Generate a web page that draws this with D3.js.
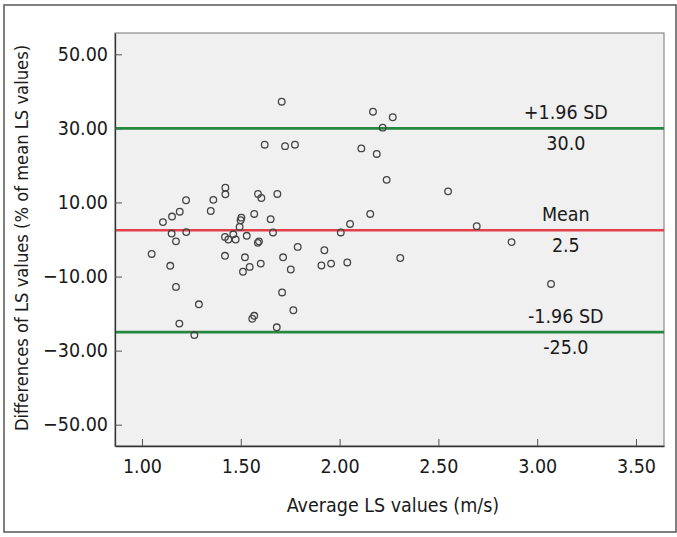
<!DOCTYPE html>
<html><head><meta charset="utf-8">
<script src="https://cdn.jsdelivr.net/npm/d3@7"></script>
<style>body{margin:0;background:#fff}svg{display:block}</style>
</head><body>
<svg id="c" width="677" height="537"></svg>
<script>
const avgLS = [1.049,1.106,1.143,1.150,1.152,1.172,1.172,1.189,1.191,1.223,1.224,1.265,1.288,1.348,1.361,1.420,1.420,1.422,1.422,1.437,1.462,1.474,1.494,1.499,1.503,1.511,1.521,1.530,1.545,1.558,1.568,1.568,1.586,1.592,1.587,1.601,1.604,1.621,1.651,1.663,1.682,1.685,1.707,1.709,1.714,1.724,1.753,1.766,1.774,1.788,1.908,1.923,1.957,2.006,2.039,2.053,2.110,2.155,2.169,2.188,2.218,2.238,2.269,2.307,2.549,2.694,2.870,3.070];
const diffLS = [-3.9,4.7,-7.1,1.6,6.2,-0.5,-12.8,-22.7,7.5,10.6,2.0,-25.8,-17.5,7.7,10.7,0.7,-4.4,14.0,12.2,0.0,1.4,0.0,3.4,5.2,5.9,-8.7,-4.8,1.0,-7.4,-21.4,-20.6,6.9,-0.9,-0.5,12.3,-6.5,11.2,25.6,5.5,1.9,-23.7,12.3,37.2,-14.3,-4.8,25.2,-8.1,-19.1,25.6,-2.0,-7.0,-2.9,-6.5,1.9,-6.2,4.2,24.6,6.9,34.5,23.1,30.2,16.1,33.0,-5.0,13.0,3.6,-0.7,-12.0];
const refValues = [30.0, 2.5, -25.0];
const refNames = ["+1.96 SD", "Mean", "-1.96 SD"];
const refLabels = ["30.0", "2.5", "-25.0"];
const refColors = ["#24883f", "#e3404c", "#24883f"];
const xTicks = [1.0,1.5,2.0,2.5,3.0,3.5];
const yTicks = [-50,-30,-10,10,30,50];

const svg = d3.select("#c");
const font = "'DejaVu Sans Condensed','DejaVu Sans',sans-serif";
const L=115, R=664, T=33, B=446;
const x = d3.scaleLinear().domain([0.8634,3.6417]).range([L,R]);
const y = d3.scaleLinear().domain([-55.75,55.75]).range([B,T]);

svg.append("rect").attr("x",4).attr("y",5).attr("width",672).attr("height",527)
  .attr("fill","#fff").attr("stroke","#555").attr("stroke-width",1.5);
svg.append("rect").attr("x",L).attr("y",T).attr("width",R-L).attr("height",B-T)
  .attr("fill","#f0f0f0").attr("stroke","#8a8a8a").attr("stroke-width",1.2);

const xa = svg.append("g").attr("transform",`translate(0,${B})`)
  .call(d3.axisBottom(x).tickValues(xTicks).tickFormat(d3.format(".2f")).tickSizeInner(-7).tickSizeOuter(0).tickPadding(13));
const ya = svg.append("g").attr("transform",`translate(${L},0)`)
  .call(d3.axisLeft(y).tickValues(yTicks).tickFormat(d3.format(".2f")).tickSizeInner(-7).tickSizeOuter(0).tickPadding(7));
[xa,ya].forEach(a=>{
  a.select(".domain").attr("stroke","#333").attr("stroke-width",1.3);
  a.selectAll(".tick line").attr("stroke","#555");
  a.selectAll("text").attr("font-family",font).attr("font-size",19.5).attr("fill","#1a1a1a");
});

svg.append("g").selectAll("line").data(refValues).join("line")
  .attr("x1",L+1).attr("x2",R).attr("y1",d=>y(d)).attr("y2",d=>y(d))
  .attr("stroke",(d,i)=>refColors[i]).attr("stroke-width",2.6);

svg.append("g").selectAll("circle").data(avgLS).join("circle")
  .attr("cx",d=>x(d)).attr("cy",(d,i)=>y(diffLS[i])).attr("r",3.3)
  .attr("fill","none").attr("stroke","#444").attr("stroke-width",1.3);

const lx = x(3.145);
const tg = svg.append("g").attr("font-family",font).attr("font-size",19.5).attr("fill","#1a1a1a").attr("text-anchor","middle");
tg.selectAll(".n").data(refValues).join("text").attr("class","n")
  .attr("x",lx).attr("y",d=>y(d)-9).text((d,i)=>refNames[i]);
tg.selectAll(".v").data(refValues).join("text").attr("class","v")
  .attr("x",lx).attr("y",d=>y(d)+22).text((d,i)=>refLabels[i]);

svg.append("text").attr("x",393).attr("y",512).attr("text-anchor","middle")
  .attr("font-family",font).attr("font-size",19.5).attr("fill","#1a1a1a").text("Average LS values (m/s)");
svg.append("text").attr("transform",`translate(28,238) rotate(-90)`).attr("text-anchor","middle")
  .attr("font-family",font).attr("font-size",18.2).attr("fill","#1a1a1a").text("Differences of LS values (% of mean LS values)");
</script>
</body></html>
